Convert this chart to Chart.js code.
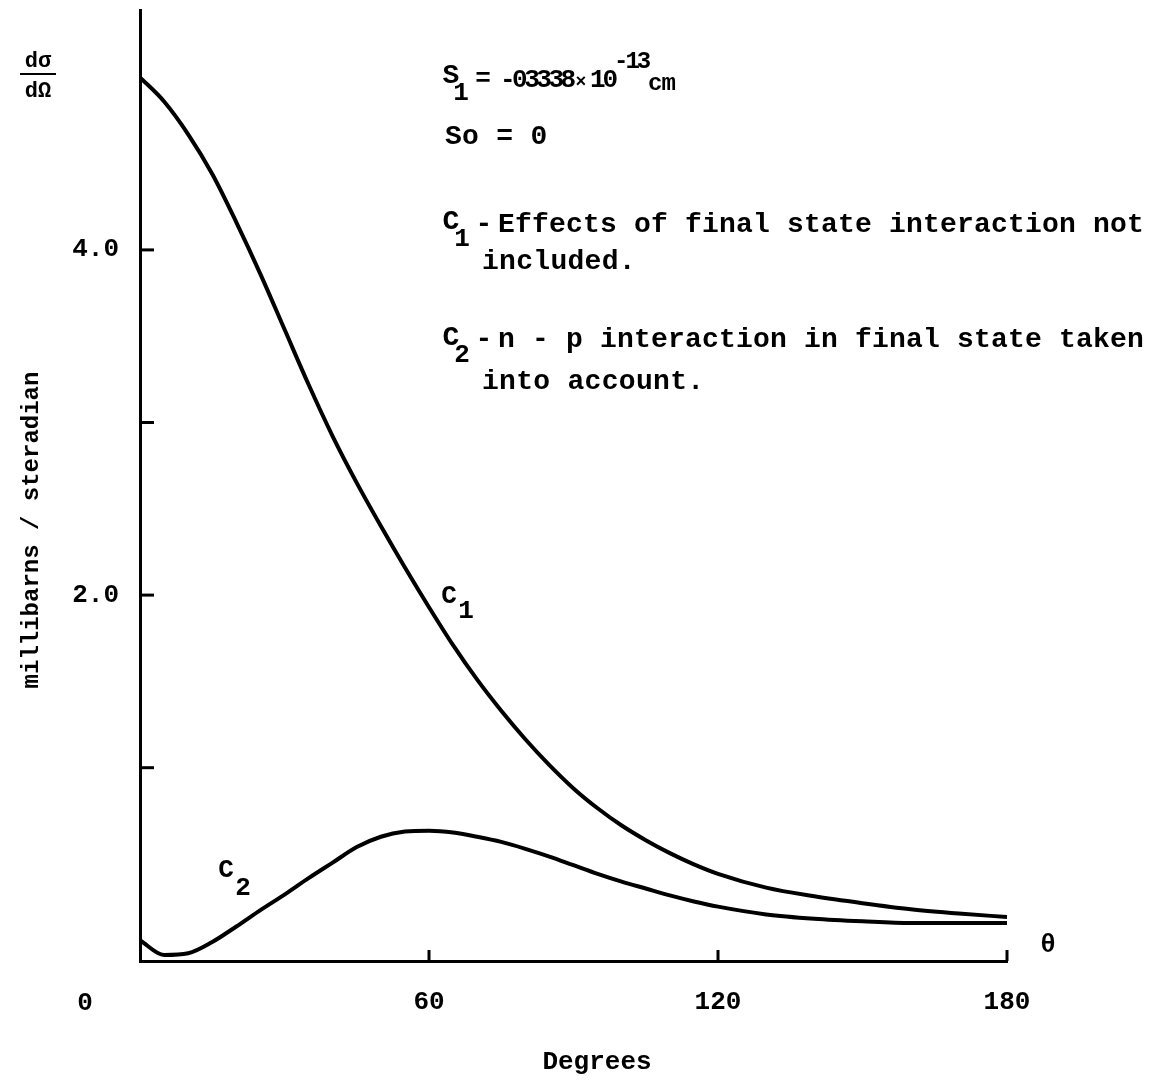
<!DOCTYPE html>
<html>
<head>
<meta charset="utf-8">
<title>Differential cross section vs angle</title>
<script src="https://cdn.jsdelivr.net/npm/chart.js@4.4.1/dist/chart.umd.min.js"></script>
<style>
  html, body { margin: 0; padding: 0; background: #fff; }
</style>
</head>
<body>
<canvas id="chart" width="1150" height="1080"></canvas>
<script>
// angle in degrees (x) and dσ/dΩ in millibarns / steradian (y)
const angles   = [0, 5, 10, 15, 20, 25, 30, 35, 40, 45, 50, 55, 60, 65, 70, 75, 80, 85, 90, 95, 100, 105, 110, 115, 120, 130, 140, 150, 160, 170, 180];
const c1Values = [5.00, 4.86, 4.67, 4.44, 4.16, 3.86, 3.54, 3.22, 2.92, 2.65, 2.40, 2.16, 1.93, 1.71, 1.51, 1.33, 1.165, 1.015, 0.88, 0.765, 0.665, 0.58, 0.505, 0.44, 0.385, 0.305, 0.255, 0.215, 0.18, 0.155, 0.135];
const c2Values = [0.00, -0.085, -0.075, -0.01, 0.08, 0.175, 0.265, 0.36, 0.45, 0.54, 0.60, 0.63, 0.635, 0.625, 0.60, 0.57, 0.53, 0.485, 0.435, 0.385, 0.34, 0.30, 0.26, 0.225, 0.195, 0.15, 0.125, 0.11, 0.10, 0.10, 0.10];

const xTicks = [0, 60, 120, 180];
const xTickLabels = ['0', '60', '120', '180'];
const yTicks = [1, 2, 3, 4];
const yTickLabels = ['', '2.0', '', '4.0'];

const FONT = '"Liberation Mono", "DejaVu Sans Mono", monospace';

function put(ctx, str, x, y, size, align, spacing) {
  ctx.font = 'bold ' + size + 'px ' + FONT;
  ctx.letterSpacing = (spacing || 0) + 'px';
  ctx.textAlign = align || 'left';
  ctx.fillText(str, x, y);
}

function line(ctx, x1, y1, x2, y2) {
  ctx.beginPath();
  ctx.moveTo(x1, y1);
  ctx.lineTo(x2, y2);
  ctx.stroke();
}

// text, inner tick marks and labels that sit where the library can't put them
const annotations = {
  id: 'annotations',
  afterDraw(chart) {
    const { ctx, scales: { x, y } } = chart;
    ctx.save();
    ctx.fillStyle = '#000';
    ctx.strokeStyle = '#000';
    ctx.textBaseline = 'middle';

    // tick marks pointing into the plot
    ctx.lineWidth = 3;
    yTicks.forEach(v => {
      const py = y.getPixelForValue(v);
      line(ctx, x.left, py, x.left + 14, py);
    });
    xTicks.slice(1).forEach(v => {
      const px = x.getPixelForValue(v);
      line(ctx, px, y.bottom, px, y.bottom - 11);
    });

    // origin label sits left of the axis in the original
    put(ctx, xTickLabels[0], x.getPixelForValue(0) - 55, 1003, 26, 'center');
    put(ctx, 'θ', 1048, 945, 26, 'center');
    put(ctx, 'Degrees', 597, 1062, 26, 'center');

    // y title
    ctx.save();
    ctx.translate(32, 530);
    ctx.rotate(-Math.PI / 2);
    put(ctx, 'millibarns / steradian', 0, 0, 24, 'center');
    ctx.restore();

    // dσ/dΩ
    put(ctx, 'dσ', 38, 61, 22, 'center');
    ctx.lineWidth = 2;
    line(ctx, 20, 74, 56, 74);
    put(ctx, 'dΩ', 38, 91, 22, 'center');

    // parameter block
    put(ctx, 'S', 451, 76, 28, 'center');
    put(ctx, '1', 461, 93, 26, 'center');
    put(ctx, '=', 483, 79, 26, 'center');
    put(ctx, '-03338', 500, 80, 26, 'left', -3.5);
    put(ctx, '×', 581, 82, 18, 'center');
    put(ctx, '10', 590, 80, 26, 'left', -3);
    put(ctx, '-13', 614, 62, 24, 'left', -3);
    put(ctx, 'cm', 648, 84, 24, 'left', -1);

    put(ctx, 'So = 0', 445, 137, 28, 'left', 0.3);

    put(ctx, 'C', 451, 222, 28, 'center');
    put(ctx, '1', 462, 239, 26, 'center');
    put(ctx, '-', 484, 225, 28, 'center');
    put(ctx, 'Effects of final state interaction not', 498, 225, 28, 'left', 0.2);
    put(ctx, 'included.', 482, 262, 28, 'left', 0.3);

    put(ctx, 'C', 451, 338, 28, 'center');
    put(ctx, '2', 462, 355, 26, 'center');
    put(ctx, '-', 484, 340, 28, 'center');
    put(ctx, 'n - p interaction in final state taken', 498, 340, 28, 'left', 0.2);
    put(ctx, 'into account.', 482, 382, 28, 'left', 0.3);

    // curve labels
    put(ctx, 'C', 449, 596, 26, 'center');
    put(ctx, '1', 466, 611, 26, 'center');
    put(ctx, 'C', 226, 870, 26, 'center');
    put(ctx, '2', 243, 888, 26, 'center');

    ctx.restore();
  }
};

const toPoints = vals => angles.map((a, i) => ({ x: a, y: vals[i] }));

new Chart(document.getElementById('chart'), {
  type: 'line',
  data: {
    datasets: [
      { label: 'C1', data: toPoints(c1Values) },
      { label: 'C2', data: toPoints(c2Values) }
    ]
  },
  options: {
    responsive: false,
    animation: false,
    layout: { padding: { left: 0, right: 143, top: 10, bottom: 0 } },
    elements: {
      line: { borderColor: '#000', borderWidth: 4, cubicInterpolationMode: 'monotone', fill: false },
      point: { radius: 0 }
    },
    plugins: { legend: { display: false }, tooltip: { enabled: false } },
    scales: {
      x: {
        type: 'linear',
        min: 0,
        max: 180,
        grid: { display: false, drawTicks: false },
        border: { display: true, color: '#000', width: 3 },
        afterBuildTicks: s => { s.ticks = xTicks.map(v => ({ value: v })); },
        afterFit: s => { s.height = 119; s.paddingLeft = 0; s.paddingRight = 0; },
        ticks: {
          color: '#000',
          padding: 26,
          maxRotation: 0,
          autoSkip: false,
          font: { family: FONT, size: 26, weight: 'bold' },
          callback: v => v === 0 ? '' : xTickLabels[xTicks.indexOf(v)]
        }
      },
      y: {
        type: 'linear',
        min: -0.12,
        max: 5.39,
        grid: { display: false, drawTicks: false },
        border: { display: true, color: '#000', width: 3 },
        afterBuildTicks: s => { s.ticks = yTicks.map(v => ({ value: v })); },
        afterFit: s => { s.width = 140; s.paddingTop = 0; s.paddingBottom = 0; },
        ticks: {
          color: '#000',
          padding: 21,
          autoSkip: false,
          font: { family: FONT, size: 26, weight: 'bold' },
          callback: v => yTickLabels[yTicks.indexOf(v)]
        }
      }
    }
  },
  plugins: [annotations]
});
</script>
</body>
</html>
